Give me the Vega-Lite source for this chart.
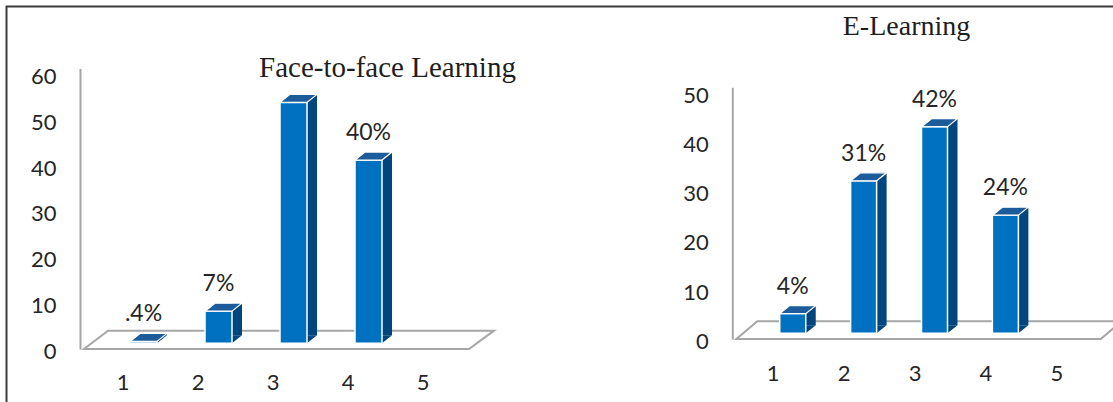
{
  "$schema": "https://vega.github.io/schema/vega-lite/v6.json",
  "width": 1120,
  "height": 400,
  "autosize": "none",
  "padding": {"left": 6.5, "top": 6.5, "right": 0, "bottom": 0},
  "background": "#FFFFFF",
  "config": {
    "view": {"stroke": "#3C3C3C", "strokeWidth": 2},
    "axis": {
      "labelFont": "Lato",
      "labelFontSize": 22,
      "labelColor": "#262626",
      "grid": false,
      "ticks": false,
      "labelFlush": false,
      "labelOverlap": false,
      "title": null
    }
  },
  "datasets": {
    "faceToFace": [
      {"score": 1, "percent": 0.4, "label": ".4%"},
      {"score": 2, "percent": 7, "label": "7%"},
      {"score": 3, "percent": 52.6, "label": ""},
      {"score": 4, "percent": 40, "label": "40%"}
    ],
    "eLearning": [
      {"score": 1, "percent": 4, "label": "4%"},
      {"score": 2, "percent": 31, "label": "31%"},
      {"score": 3, "percent": 42, "label": "42%"},
      {"score": 4, "percent": 24, "label": "24%"}
    ]
  },
  "layer": [
    {
      "data": {"name": "faceToFace"},
      "encoding": {
        "x": {
          "field": "score", "type": "quantitative",
          "scale": {"domain": [0.5, 5.5], "range": [73.5, 458.5], "nice": false, "zero": false},
          "axis": {"orient": "bottom", "offset": -57.5, "values": [1, 2, 3, 4, 5], "format": "d", "domain": false, "labelPadding": 23, "title": null}
        },
        "y": {
          "field": "percent", "type": "quantitative",
          "scale": {"domain": [-1.25, 60], "range": [342.5, 62], "nice": false, "zero": false},
          "axis": {"orient": "left", "offset": -73.5, "values": [0, 10, 20, 30, 40, 50, 60], "domainColor": "#A6A6A6", "domainWidth": 2, "labelPadding": 24, "labelOffset": 8, "title": null}
        }
      },
      "layer": [
        {
          "transform": [{"filter": "datum.score == 1"}],
          "mark": {"type": "point", "shape": "M -38.5 5.7 L 346.5 5.7 L 371.5 -12.6 L -14.5 -12.6 Z", "size": 4, "filled": false, "stroke": "#A6A6A6", "strokeWidth": 2, "opacity": 1},
          "encoding": {"y": {"datum": 0, "type": "quantitative"}}
        },
        {
          "mark": {"type": "bar", "orient": "vertical", "size": 10, "xOffset": 39.5, "yOffset": -8, "y2Offset": -8, "fill": "#00467E"},
          "encoding": {"y2": {"datum": 0}}
        },
        {
          "mark": {"type": "point", "shape": "M 34.5 -8 L 44.5 -8 L 34.5 0 Z", "size": 4, "filled": true, "fill": "#00467E", "strokeWidth": 0, "opacity": 1},
          "encoding": {"y": {"datum": 0, "type": "quantitative"}}
        },
        {
          "mark": {"type": "bar", "orient": "vertical", "size": 27, "xOffset": 21, "fill": "#0070C0", "stroke": "#FFFFFF", "strokeWidth": 1.5},
          "encoding": {"y2": {"datum": 0}}
        },
        {
          "mark": {"type": "point", "shape": "M 7.5 0 L 34.5 0 L 44.5 -8 L 17.5 -8 Z", "size": 4, "filled": true, "fill": "#1D5C9A", "stroke": "#FFFFFF", "strokeWidth": 1.2, "opacity": 1}
        },
        {
          "mark": {"type": "text", "dx": 21, "dy": -27, "align": "center", "baseline": "middle", "font": "Lato", "fontSize": 23, "color": "#262626"},
          "encoding": {"text": {"field": "label"}}
        },
        {
          "transform": [{"filter": "datum.score == 1"}],
          "mark": {"type": "text", "text": "Face-to-face Learning", "font": "Liberation Serif", "fontSize": 29, "color": "#1E1E1E", "align": "center", "baseline": "alphabetic", "dx": 115, "dy": 8},
          "encoding": {
            "x": {"datum": 3, "type": "quantitative"},
            "y": {"datum": 60, "type": "quantitative"}
          }
        }
      ]
    },
    {
      "data": {"name": "eLearning"},
      "encoding": {
        "x": {
          "field": "score", "type": "quantitative",
          "scale": {"domain": [0.5, 5.5], "range": [725.8, 1090.2], "nice": false, "zero": false},
          "axis": {"orient": "bottom", "offset": -67.5, "values": [1, 2, 3, 4, 5], "format": "d", "domain": false, "labelPadding": 24, "title": null}
        },
        "y": {
          "field": "percent", "type": "quantitative",
          "scale": {"domain": [-1.16, 50], "range": [332.5, 80.8], "nice": false, "zero": false},
          "axis": {"orient": "left", "offset": -725.8, "values": [0, 10, 20, 30, 40, 50], "domainColor": "#A6A6A6", "domainWidth": 2, "labelPadding": 24, "labelOffset": 8, "title": null}
        }
      },
      "layer": [
        {
          "transform": [{"filter": "datum.score == 1"}],
          "mark": {"type": "point", "shape": "M -36.4 5.7 L 328 5.7 L 349 -12 L -15.4 -12 Z", "size": 4, "filled": false, "stroke": "#A6A6A6", "strokeWidth": 2, "opacity": 1},
          "encoding": {"y": {"datum": 0, "type": "quantitative"}}
        },
        {
          "mark": {"type": "bar", "orient": "vertical", "size": 10, "xOffset": 38, "yOffset": -8, "y2Offset": -8, "fill": "#00467E"},
          "encoding": {"y2": {"datum": 0}}
        },
        {
          "mark": {"type": "point", "shape": "M 33 -8 L 43 -8 L 33 0 Z", "size": 4, "filled": true, "fill": "#00467E", "strokeWidth": 0, "opacity": 1},
          "encoding": {"y": {"datum": 0, "type": "quantitative"}}
        },
        {
          "mark": {"type": "bar", "orient": "vertical", "size": 26, "xOffset": 20, "fill": "#0070C0", "stroke": "#FFFFFF", "strokeWidth": 1.5},
          "encoding": {"y2": {"datum": 0}}
        },
        {
          "mark": {"type": "point", "shape": "M 7 0 L 33 0 L 43 -8 L 17 -8 Z", "size": 4, "filled": true, "fill": "#1D5C9A", "stroke": "#FFFFFF", "strokeWidth": 1.2, "opacity": 1}
        },
        {
          "mark": {"type": "text", "dx": 20, "dy": -27, "align": "center", "baseline": "middle", "font": "Lato", "fontSize": 23, "color": "#262626"},
          "encoding": {"text": {"field": "label"}}
        },
        {
          "transform": [{"filter": "datum.score == 1"}],
          "mark": {"type": "text", "text": "E-Learning", "font": "Liberation Serif", "fontSize": 28, "color": "#1E1E1E", "align": "center", "baseline": "alphabetic", "dx": -8, "dy": -52},
          "encoding": {
            "x": {"datum": 3, "type": "quantitative"},
            "y": {"datum": 50, "type": "quantitative"}
          }
        }
      ]
    }
  ],
  "resolve": {"scale": {"x": "independent", "y": "independent"}}
}
